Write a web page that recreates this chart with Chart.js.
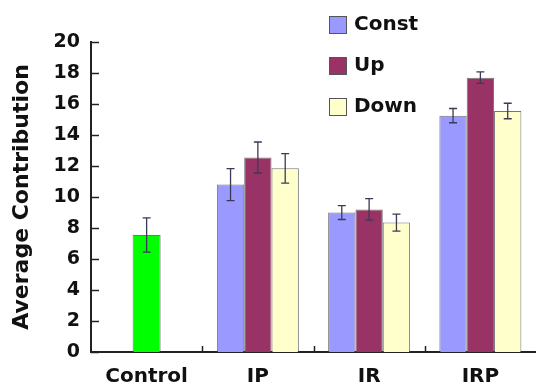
<!DOCTYPE html>
<html>
<head>
<meta charset="utf-8">
<script src="https://cdn.jsdelivr.net/npm/chart.js@4.4.1/dist/chart.umd.min.js"></script>
<style>
  html, body { margin: 0; padding: 0; background: #fff; }
  #wrap { width: 536px; height: 383px; }
</style>
</head>
<body>
<div id="wrap"><canvas id="myChart"></canvas></div>
<script>
// categorias e valores
const categorias = ['Control', 'IP', 'IR', 'IRP'];
const controle = [7.55, null, null, null];
const controleErro = [1.1, null, null, null];
const constante = [null, 10.8, 9.0, 15.25];
const constanteErro = [null, 1.03, 0.45, 0.46];
const subida = [null, 12.55, 9.2, 17.7];
const subidaErro = [null, 1.0, 0.69, 0.37];
const descida = [null, 11.85, 8.35, 15.55];
const descidaErro = [null, 0.95, 0.55, 0.5];
const ticksY = [0, 2, 4, 6, 8, 10, 12, 14, 16, 18, 20];

Chart.defaults.font.family = "'DejaVu Sans', sans-serif";
Chart.defaults.color = '#111';

const corBorda = 'rgba(70,70,70,0.75)';

// barras de erro, ticks internos e legenda desenhados à mão
const extras = {
    id: 'extras',
    afterDatasetsDraw(chart) {
        const ctx = chart.ctx;
        const y = chart.scales.y;
        ctx.save();
        ctx.strokeStyle = '#3a3a55';
        ctx.lineWidth = 1.3;
        chart.data.datasets.forEach((ds, i) => {
            const meta = chart.getDatasetMeta(i);
            meta.data.forEach((bar, j) => {
                const v = ds.data[j];
                const e = ds.erros[j];
                if (v == null || e == null) return;
                const yTop = y.getPixelForValue(v + e);
                const yBot = y.getPixelForValue(v - e);
                ctx.beginPath();
                ctx.moveTo(bar.x, yTop); ctx.lineTo(bar.x, yBot);
                ctx.moveTo(bar.x - 4, yTop); ctx.lineTo(bar.x + 4, yTop);
                ctx.moveTo(bar.x - 4, yBot); ctx.lineTo(bar.x + 4, yBot);
                ctx.stroke();
            });
        });
        ctx.restore();
    },
    afterDraw(chart) {
        const ctx = chart.ctx;
        const area = chart.chartArea;
        const y = chart.scales.y;
        const x = chart.scales.x;
        ctx.save();
        ctx.strokeStyle = '#222';
        ctx.lineWidth = 1.5;
        // ticks do eixo y, para dentro
        ticksY.forEach(t => {
            const py = Math.round(y.getPixelForValue(t)) + 0.5;
            ctx.beginPath();
            ctx.moveTo(area.left, py); ctx.lineTo(area.left + 8, py);
            ctx.stroke();
        });
        // ticks do eixo x entre categorias
        for (let k = 1; k < categorias.length; k++) {
            const px = Math.round((x.getPixelForValue(k - 1) + x.getPixelForValue(k)) / 2) + 0.5;
            ctx.beginPath();
            ctx.moveTo(px, area.bottom); ctx.lineTo(px, area.bottom - 6);
            ctx.stroke();
        }
        // legenda
        ctx.font = "bold 20px 'DejaVu Sans'";
        ctx.textBaseline = 'middle';
        ctx.textAlign = 'left';
        chart.data.datasets.slice(1).forEach((ds, k) => {
            const top = 16 + k * 41;
            ctx.fillStyle = ds.backgroundColor;
            ctx.fillRect(329.5, top + 0.5, 17, 17);
            ctx.strokeStyle = '#555';
            ctx.lineWidth = 1;
            ctx.strokeRect(329.5, top + 0.5, 17, 17);
            ctx.fillStyle = '#111';
            ctx.fillText(ds.label, 354, top + 9);
        });
        ctx.restore();
    }
};

const ctx = document.getElementById('myChart').getContext('2d');
const myChart = new Chart(ctx, {
    type: 'bar',
    data: {
        labels: categorias,
        datasets: [
            { label: 'Control', data: controle, erros: controleErro, backgroundColor: '#00ff00', maxBarThickness: 28 },
            { label: 'Const', data: constante, erros: constanteErro, backgroundColor: '#9999ff' },
            { label: 'Up', data: subida, erros: subidaErro, backgroundColor: '#993366' },
            { label: 'Down', data: descida, erros: descidaErro, backgroundColor: '#ffffcc' }
        ]
    },
    options: {
        responsive: true,
        maintainAspectRatio: false,
        animation: false,
        skipNull: true,
        datasets: {
            bar: {
                barPercentage: 1,
                categoryPercentage: 0.737,
                borderColor: corBorda,
                borderWidth: 1
            }
        },
        plugins: {
            legend: { display: false },
            tooltip: { enabled: false }
        },
        layout: {
            padding: { top: 42, right: 0, bottom: 0, left: 0 }
        },
        scales: {
            x: {
                grid: { display: false },
                border: { display: true, color: '#222', width: 2 },
                ticks: {
                    padding: 5,
                    color: '#111',
                    font: { size: 20, weight: 'bold' }
                },
                afterFit(scale) { scale.height = 31; }
            },
            y: {
                min: 0,
                max: 20,
                grid: { display: false, drawTicks: false },
                border: { display: true, color: '#222', width: 2 },
                ticks: {
                    stepSize: 2,
                    padding: 11,
                    color: '#111',
                    font: { size: 19, weight: 'bold' }
                },
                title: {
                    display: true,
                    text: 'Average Contribution',
                    color: '#111',
                    font: { size: 22, weight: 'bold' },
                    padding: { top: 9, bottom: 0 }
                },
                afterFit(scale) { scale.width = 91; }
            }
        }
    },
    plugins: [extras]
});
</script>
</body>
</html>
